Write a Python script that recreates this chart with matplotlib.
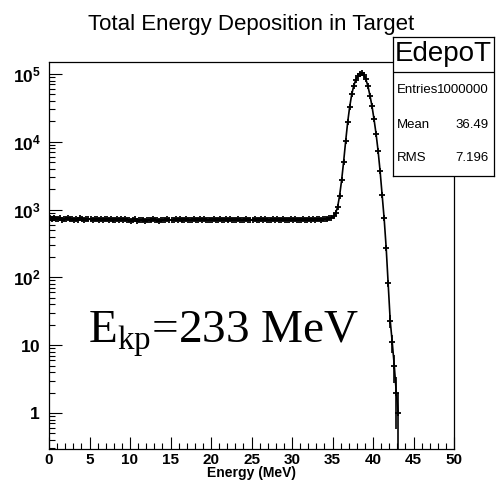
import numpy as np
import matplotlib
matplotlib.use("Agg")
from matplotlib import pyplot as plt
from matplotlib.ticker import FixedLocator, FuncFormatter, MultipleLocator, LogLocator, NullFormatter

plt.rcParams['font.family'] = ['Liberation Sans', 'DejaVu Sans']
plt.rcParams['mathtext.fontset'] = 'custom'
plt.rcParams['mathtext.rm'] = 'Liberation Serif'
plt.rcParams['mathtext.bf'] = 'Liberation Sans:bold'

# histogram EdepoT, 0.25 MeV bins from 0 to 50 MeV
bin_width = 0.25
flat_counts = [
    742, 731, 755, 718, 726, 740, 709, 733, 721, 748, 716, 735, 702, 729, 711, 738, 720, 706, 731, 714,
    725, 699, 718, 732, 707, 722, 694, 716, 728, 703, 719, 690, 712, 726, 698, 715, 705, 721, 693, 710,
    688, 706, 719, 684, 702, 695, 713, 681, 699, 708, 692, 716, 697, 705, 689, 711, 700, 694, 718, 703,
    709, 696, 721, 701, 714, 690, 707, 722, 698, 711, 704, 719, 693, 708, 716, 700, 725, 705, 697, 713,
    702, 718, 694, 711, 723, 699, 707, 715, 692, 720, 706, 713, 698, 724, 703, 710, 696, 717, 705, 712,
    700, 719, 708, 695, 716, 703, 722, 697, 711, 706, 718, 701, 714, 693, 709, 720, 704, 712, 699, 715,
    707, 721, 698, 713, 703, 719, 711, 696, 716, 708, 722, 701, 714, 727, 709, 718, 731, 716, 738, 752,
]
peak_counts = [
    790, 880, 1080, 1600, 2700, 5100, 10200, 19500, 33000, 50000,
    67000, 82000, 94000, 101000, 103000, 96000, 83000, 66000, 48000, 33500,
    21500, 13200, 7400, 3700, 1650, 740, 275, 82, 23, 11,
    5, 2, 1,
]
n_bins = 200

entries = "1000000"
mean_val = "36.49"
rms_val = "7.196"

counts = np.zeros(n_bins)
allc = flat_counts + peak_counts
counts[:len(allc)] = allc
centers = (np.arange(n_bins) + 0.5) * bin_width

mask = counts > 0
x = centers[mask]
y = counts[mask]
err_up = np.sqrt(y)
err_lo = np.minimum(np.sqrt(y), y - 1e-4)

fig = plt.figure(figsize=(5.0, 4.9), dpi=100)
ax = fig.add_axes([49 / 500, 41 / 490, 405 / 500, 387 / 490])

ax.errorbar(x, y, yerr=[err_lo, err_up], fmt='-', color='black', lw=1.2,
            marker='+', ms=5, mew=1.3, elinewidth=1.2, capsize=0)

ax.set_yscale('log')
ax.set_xlim(0, 50)
ax.set_ylim(0.294, 1.5e5)

ax.xaxis.set_major_locator(MultipleLocator(5))
ax.xaxis.set_minor_locator(MultipleLocator(1))
ax.yaxis.set_major_locator(FixedLocator([1, 10, 100, 1e3, 1e4, 1e5]))
ax.yaxis.set_minor_locator(LogLocator(base=10, subs=np.arange(2, 10)))
ax.yaxis.set_minor_formatter(NullFormatter())


def ylab(v, pos):
    if v == 1:
        return r'$\mathbf{1}$'
    if v == 10:
        return r'$\mathbf{10}$'
    return r'$\mathbf{10^{%d}}$' % int(round(np.log10(v)))


ax.yaxis.set_major_formatter(FuncFormatter(ylab))
ax.tick_params(which='both', direction='in', top=False, right=False, width=0.8)
ax.tick_params(which='major', length=9)
ax.tick_params(which='minor', length=4.5)
ax.tick_params(axis='x', labelsize=11, pad=3)
ax.tick_params(axis='y', labelsize=12.5, pad=6)
for lab in ax.get_xticklabels():
    lab.set_fontweight('bold')
for sp in ax.spines.values():
    sp.set_linewidth(0.9)

ax.set_xlabel('Energy (MeV)', fontsize=10, fontweight='bold', labelpad=-1)

ax.text(39 / 405, 107 / 387, r'E$_{\mathrm{kp}}$=233 MeV', transform=ax.transAxes,
        family='Liberation Serif', fontsize=34, va='baseline', ha='left')

fig.text(251 / 500, 1 - 30 / 490, 'Total Energy Deposition in Target',
         ha='center', va='baseline', fontsize=16)

# stats box
sb = fig.add_axes([393 / 500, 1 - 176 / 490, 101 / 500, 139 / 490], zorder=5)
sb.set_xticks([])
sb.set_yticks([])
sb.set_xlim(0, 1)
sb.set_ylim(0, 1)
for sp in sb.spines.values():
    sp.set_linewidth(0.9)
sb.axhline(104 / 139, color='black', lw=0.9)
sb.text(0.5, 0.878, 'EdepoT', ha='center', va='center', fontsize=20)
rows = [('Entries', entries, 0.62), ('Mean', mean_val, 0.367), ('RMS', rms_val, 0.13)]
for name, val, yy in rows:
    sb.text(0.04, yy, name, ha='left', va='center', fontsize=9.5)
    sb.text(0.95, yy, val, ha='right', va='center', fontsize=9.5)

fig.savefig('out.png', dpi=100)
